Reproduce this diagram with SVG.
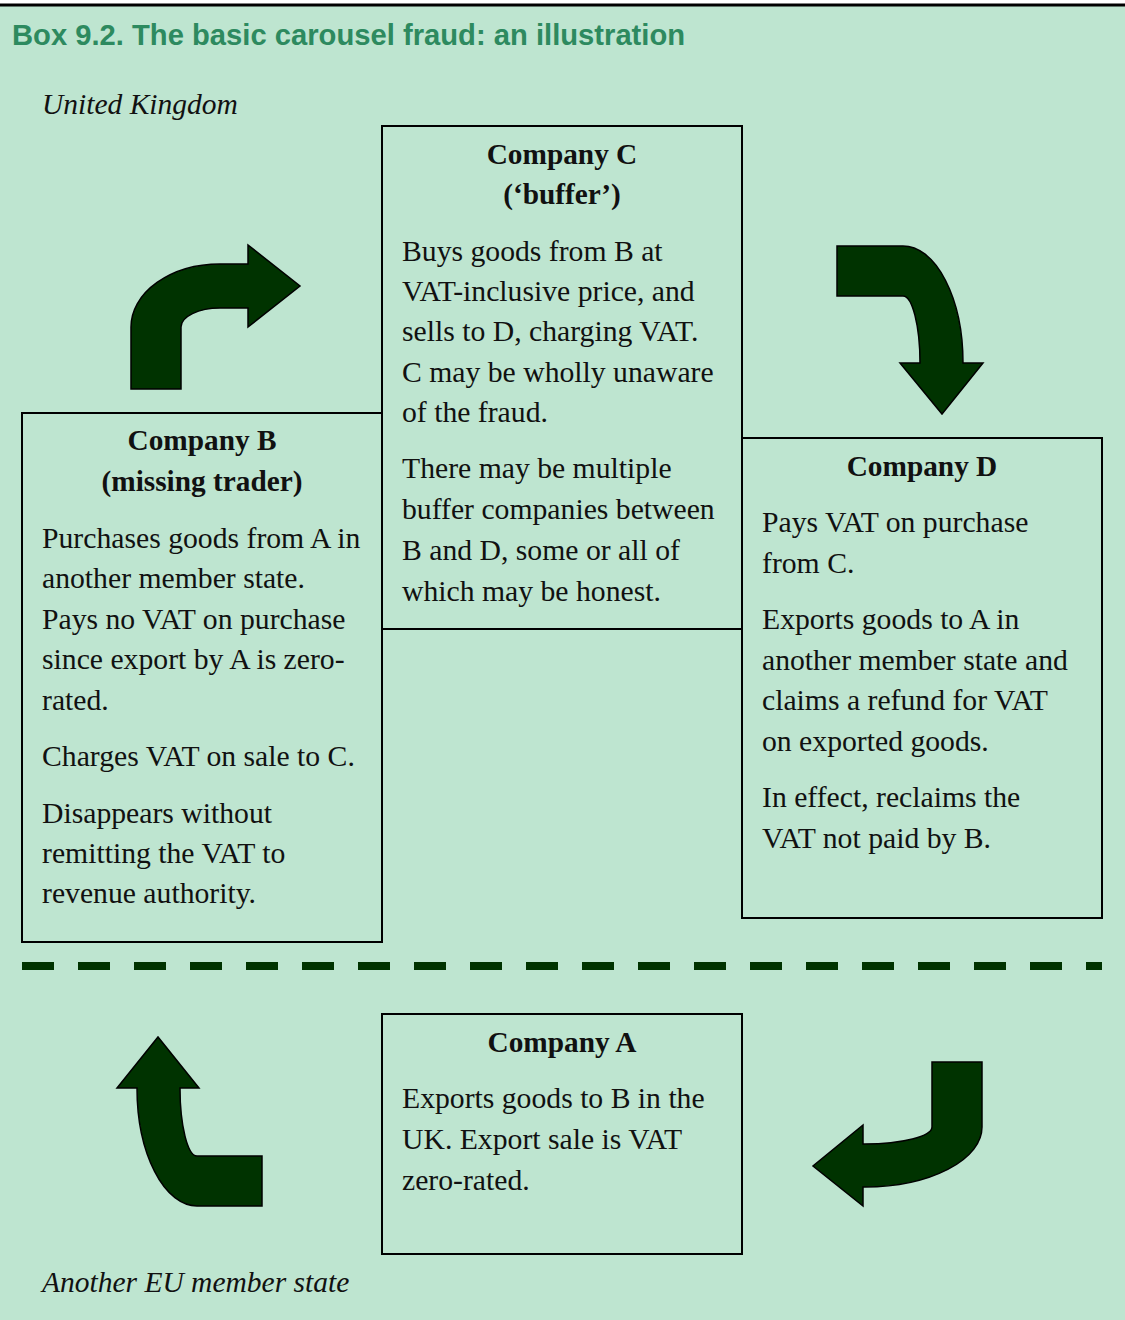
<svg xmlns="http://www.w3.org/2000/svg" width="1125" height="1320" viewBox="0 0 1125 1320">
<style>
.bg{fill:#BEE5D0}
.box{fill:none;stroke:#000;stroke-width:2}
.t{font-family:"Liberation Serif","Times New Roman",serif;font-size:29.7px;fill:#111}
.h{font-family:"Liberation Serif","Times New Roman",serif;font-size:29.3px;font-weight:bold;fill:#111;text-anchor:middle}
.it{font-family:"Liberation Serif","Times New Roman",serif;font-size:29.5px;font-style:italic;fill:#111}
.title{font-family:"Liberation Sans",Arial,sans-serif;font-size:29.2px;font-weight:bold;fill:#2D8A5F}
.arrow{fill:#003300;stroke:#000;stroke-width:1.5;stroke-linejoin:miter}
</style>
<rect x="0" y="0" width="1125" height="1320" fill="#fff"/>
<rect class="bg" x="0" y="5" width="1125" height="1315"/>
<rect x="0" y="3.5" width="1125" height="3" fill="#000"/>
<text class="title" x="12" y="45">Box 9.2. The basic carousel fraud: an illustration</text>
<text class="it" x="42" y="114">United Kingdom</text>
<text class="it" x="42" y="1292">Another EU member state</text>

<g id="companyC">
<rect class="box" x="382" y="126" width="360" height="503"/>
<text class="h" x="562" y="164">Company C</text>
<text class="h" x="562" y="204">(‘buffer’)</text>
<text class="t" x="402" y="261">Buys goods from B at</text>
<text class="t" x="402" y="301">VAT-inclusive price, and</text>
<text class="t" x="402" y="341">sells to D, charging VAT.</text>
<text class="t" x="402" y="382">C may be wholly unaware</text>
<text class="t" x="402" y="422">of the fraud.</text>
<text class="t" x="402" y="478">There may be multiple</text>
<text class="t" x="402" y="519">buffer companies between</text>
<text class="t" x="402" y="560">B and D, some or all of</text>
<text class="t" x="402" y="601">which may be honest.</text>
</g>

<g id="companyB">
<rect class="box" x="22" y="413" width="360" height="529"/>
<text class="h" x="202" y="450">Company B</text>
<text class="h" x="202" y="491">(missing trader)</text>
<text class="t" x="42" y="548">Purchases goods from A in</text>
<text class="t" x="42" y="588">another member state.</text>
<text class="t" x="42" y="629">Pays no VAT on purchase</text>
<text class="t" x="42" y="669">since export by A is zero-</text>
<text class="t" x="42" y="710">rated.</text>
<text class="t" x="42" y="766">Charges VAT on sale to C.</text>
<text class="t" x="42" y="823">Disappears without</text>
<text class="t" x="42" y="863">remitting the VAT to</text>
<text class="t" x="42" y="903">revenue authority.</text>
</g>

<g id="companyD">
<rect class="box" x="742" y="438" width="360" height="480"/>
<text class="h" x="922" y="476">Company D</text>
<text class="t" x="762" y="532">Pays VAT on purchase</text>
<text class="t" x="762" y="573">from C.</text>
<text class="t" x="762" y="629">Exports goods to A in</text>
<text class="t" x="762" y="670">another member state and</text>
<text class="t" x="762" y="710">claims a refund for VAT</text>
<text class="t" x="762" y="751">on exported goods.</text>
<text class="t" x="762" y="807">In effect, reclaims the</text>
<text class="t" x="762" y="848">VAT not paid by B.</text>
</g>

<g id="companyA">
<rect class="box" x="382" y="1014" width="360" height="240"/>
<text class="h" x="562" y="1052">Company A</text>
<text class="t" x="402" y="1108">Exports goods to B in the</text>
<text class="t" x="402" y="1149">UK. Export sale is VAT</text>
<text class="t" x="402" y="1190">zero-rated.</text>
</g>

<g id="connectors">
<line x1="22" y1="966" x2="1102" y2="966" stroke="#003300" stroke-width="8" stroke-dasharray="32 24"/>
<path class="arrow" d="M131,389 L131,327 A89,63 0 0 1 220,264 L248,264 L248,245 L300,286 L248,327 L248,308 L220,308 A39,19 0 0 0 181,327 L181,389 Z"/>
<path class="arrow" d="M837,246 L903,246 A60,117 0 0 1 963,363 L983,363 L942,414 L900,363 L920,363 A17,67 0 0 0 903,296 L837,296 Z"/>
<path class="arrow" d="M932,1062 L982,1062 L982,1127 A117,60 0 0 1 865,1187 L863,1187 L863,1206 L813,1166 L863,1125 L863,1144 L865,1144 A67,17 0 0 0 932,1127 Z"/>
<path class="arrow" d="M262,1156 L262,1206 L197,1206 A60,118 0 0 1 137,1088 L117,1088 L158,1037 L199,1088 L180,1088 A17,68 0 0 0 197,1156 Z"/>
</g>
</svg>
